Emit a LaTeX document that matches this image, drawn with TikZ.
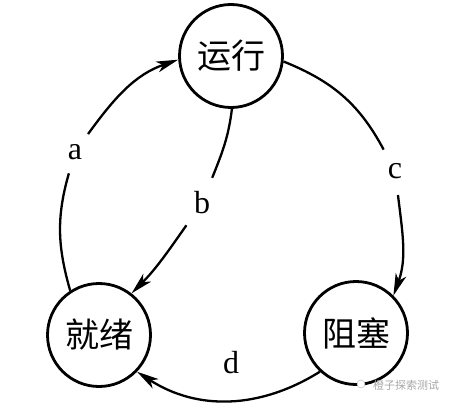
\documentclass[tikz,border=0pt]{standalone}
\usepackage{fontspec}
\setmainfont{Liberation Serif}
\newfontfamily\cjk{Noto Sans CJK SC}
\usetikzlibrary{arrows.meta}
\begin{document}
\begin{tikzpicture}[x=1pt,y=1pt,
  state/.style={circle,draw,line width=2.8pt,minimum size=103pt,inner sep=0pt,font=\cjk\fontsize{34}{34}\selectfont},
  lbl/.style={circle,inner sep=0pt,minimum size=#1,font=\fontsize{32}{32}\selectfont},
  conn/.style={line width=2.3pt},
  tip/.style={-{Stealth[length=22pt,width=11pt,inset=6pt]}}]
\useasboundingbox (0,0) rectangle (452,405);
\node[state] (run) at (231,349) {运行};
\node[state] (ready) at (99,70) {就绪};
\node[state] (block) at (356,72) {阻塞};
\node[lbl=44pt] (la) at (75,253) {a};
\node[lbl=54pt] (lb) at (202,202) {b};
\node[lbl=48pt] (lc) at (395,234) {c};
\node[font=\fontsize{32}{32}\selectfont] (ld) at (231,42) {d};
\draw[conn] (ready.123) to[out=106,in=-106] (la);
\draw[conn,tip] (la) to[out=54,in=199] (run.184);
\draw[conn] (run.-89) to[out=-97,in=68] (lb);
\draw[conn,tip] (lb) to[out=-125,in=45] (ready.52);
\draw[conn] (run.-6) to[out=-22,in=118] (lc);
\draw[conn,tip] (lc) to[out=-83,in=70] (block.45);
\draw[conn,tip] (block.227) to[out=212,in=-33] (ready.-44);
\node[circle,draw=gray!60,fill=white,minimum size=8pt,inner sep=0pt] (wmi) at (361,21) {};
\node[font=\cjk\fontsize{11}{11}\selectfont,text=gray!70] (wm) at (406,20) {橙子探索测试};
\end{tikzpicture}
\end{document}
